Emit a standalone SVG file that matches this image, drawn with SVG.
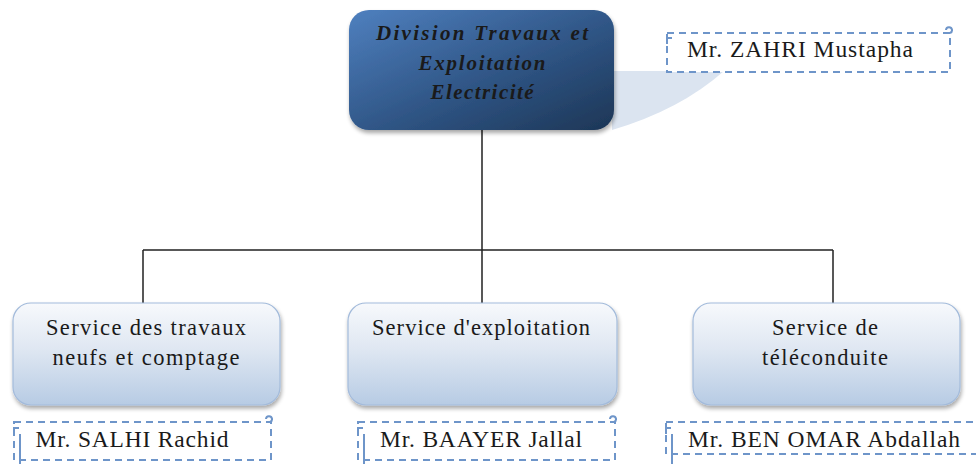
<svg xmlns="http://www.w3.org/2000/svg" width="976" height="464" viewBox="0 0 976 464">
  <defs>
    <linearGradient id="gHead" x1="0" y1="0" x2="1" y2="1">
      <stop offset="0" stop-color="#4f80bf"/>
      <stop offset="0.55" stop-color="#2f5585"/>
      <stop offset="1" stop-color="#1d3656"/>
    </linearGradient>
    <linearGradient id="gSvc" x1="0" y1="0" x2="0" y2="1">
      <stop offset="0" stop-color="#f7f9fc"/>
      <stop offset="0.45" stop-color="#dfe7f2"/>
      <stop offset="1" stop-color="#b7cbe4"/>
    </linearGradient>
    <filter id="shadow" x="-10%" y="-10%" width="120%" height="130%">
      <feGaussianBlur in="SourceAlpha" stdDeviation="2"/>
      <feOffset dx="1" dy="3" result="b"/>
      <feComponentTransfer><feFuncA type="linear" slope="0.35"/></feComponentTransfer>
      <feMerge><feMergeNode/><feMergeNode in="SourceGraphic"/></feMerge>
    </filter>
  </defs>
  <style>
    .head { fill: url(#gHead); }
    .svc { fill: url(#gSvc); stroke: #a3bbdb; stroke-width: 1.2; }
    .name { fill: #ffffff; stroke: #6e95c9; stroke-width: 2; stroke-dasharray: 7 5; }
    .hook { fill: none; stroke: #6e95c9; stroke-width: 2; }
    .t { font-family: "Liberation Serif", "Times New Roman", serif; fill: #1a1a1a; text-anchor: middle; }
    .th { font-size: 21px; font-style: italic; font-weight: bold; }
    .ts { font-size: 22.5px; }
    .tn { font-size: 23.5px; }
    .wire { fill: none; stroke: #222222; stroke-width: 1.5; }
  </style>

  <rect width="976" height="464" fill="#ffffff"/>

  <!-- connectors -->
  <g id="connectors">
    <path class="wire" d="M482,130 V250 M143,250 H833 M143,250 V304 M482,250 V304 M833,250 V304"/>
  </g>

  <!-- head unit with its callout wedge -->
  <g id="head">
    <path d="M612,71 L724,71 Q680,110 612,130 Z" fill="#dbe4f0"/>
    <rect class="head" x="349" y="10" width="265" height="120" rx="20" ry="20" filter="url(#shadow)"/>
    <text class="t th" x="482" y="40" textLength="212" lengthAdjust="spacing">Division Travaux  et</text>
    <text class="t th" x="482" y="70" textLength="127" lengthAdjust="spacing">Exploitation</text>
    <text class="t th" x="482" y="99" textLength="103" lengthAdjust="spacing">Electricité</text>
  </g>

  <g id="head-name">
    <rect class="name" x="667" y="33" width="283" height="39"/>
    <path class="hook" d="M667,44 V38 H672 M946,30 a3,3 0 1 1 4,3"/>
    <text class="t tn" x="800" y="57" textLength="226" lengthAdjust="spacing">Mr. ZAHRI Mustapha</text>
  </g>

  <!-- services -->
  <g id="svc-travaux">
    <rect class="svc" x="13" y="303" width="267" height="102" rx="18" ry="18" filter="url(#shadow)"/>
    <text class="t ts" x="146" y="335" textLength="200" lengthAdjust="spacing">Service des travaux</text>
    <text class="t ts" x="146" y="365" textLength="187" lengthAdjust="spacing">neufs et comptage</text>
  </g>
  <g id="svc-exploitation">
    <rect class="svc" x="348" y="303" width="269" height="102" rx="18" ry="18" filter="url(#shadow)"/>
    <text class="t ts" x="481" y="335" textLength="218" lengthAdjust="spacing">Service d'exploitation</text>
  </g>
  <g id="svc-teleconduite">
    <rect class="svc" x="693" y="303" width="267" height="102" rx="18" ry="18" filter="url(#shadow)"/>
    <text class="t ts" x="825" y="335" textLength="106" lengthAdjust="spacing">Service de</text>
    <text class="t ts" x="825" y="365" textLength="126" lengthAdjust="spacing">téléconduite</text>
  </g>

  <!-- heads of service -->
  <g id="name-salhi">
    <rect class="name" x="14" y="422" width="257" height="38"/>
    <path class="hook" d="M20,466 V434 M14,434 V428 H19 M266,419 a3,3 0 1 1 4,3"/>
    <text class="t tn" x="132" y="447" textLength="193" lengthAdjust="spacing">Mr. SALHI Rachid</text>
  </g>
  <g id="name-baayer">
    <rect class="name" x="358" y="422" width="257" height="38"/>
    <path class="hook" d="M364,466 V434 M358,434 V428 H363 M610,419 a3,3 0 1 1 4,3"/>
    <text class="t tn" x="481" y="447" textLength="202" lengthAdjust="spacing">Mr. BAAYER Jallal</text>
  </g>
  <g id="name-benomar">
    <rect class="name" x="666" y="422" width="320" height="32"/>
    <path class="hook" d="M672,466 V434 M666,434 V428 H671"/>
    <text class="t tn" x="824" y="447" textLength="272" lengthAdjust="spacing">Mr. BEN OMAR Abdallah</text>
  </g>
</svg>
